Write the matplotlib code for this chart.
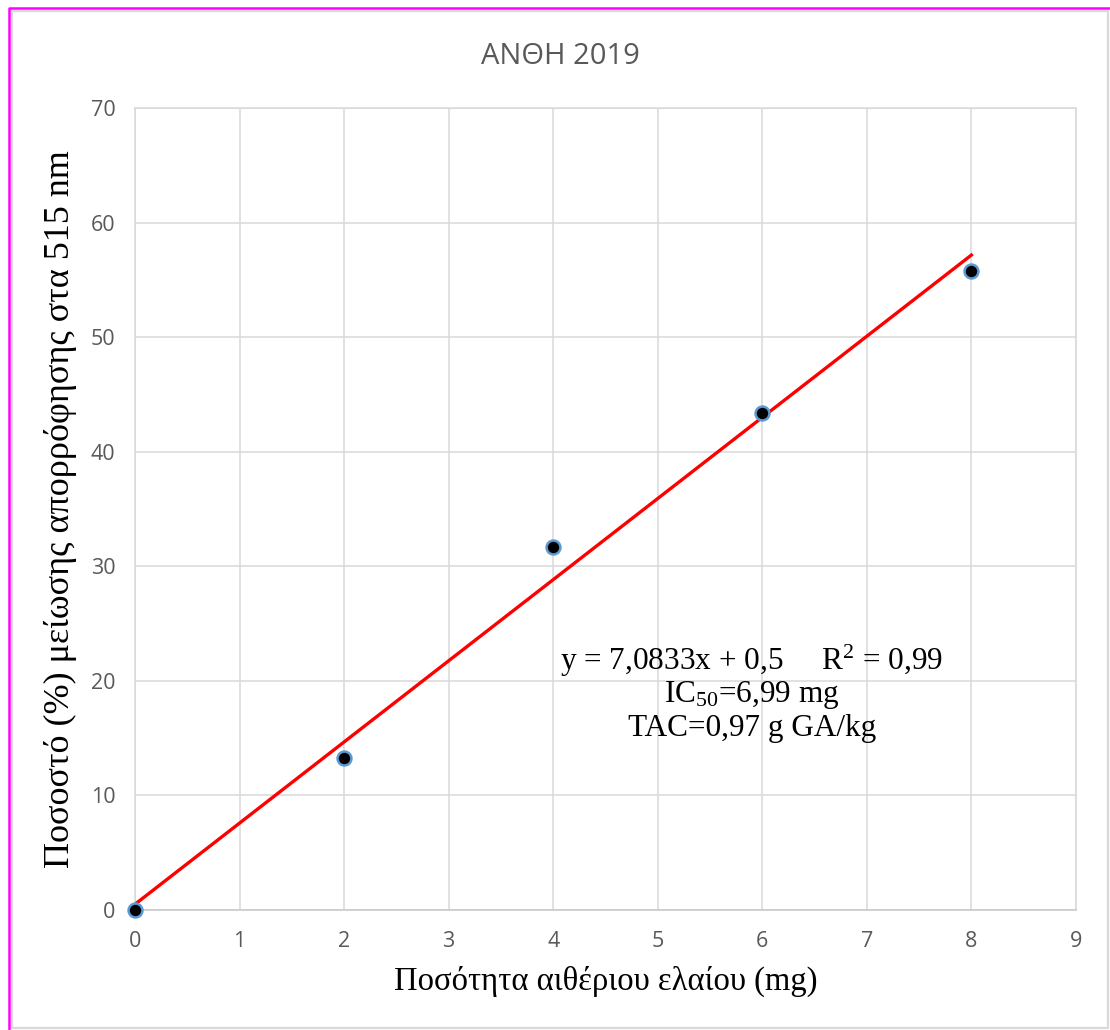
import numpy as np
import matplotlib.pyplot as plt
from matplotlib.lines import Line2D

# data
x_mg = [0, 2, 4, 6, 8]
y_pct = [0.0, 13.3, 31.7, 43.4, 55.8]
slope = 7.0833
intercept = 0.5
x_ticks = list(range(0, 10))
y_ticks = list(range(0, 80, 10))

title = 'ΑΝΘΗ 2019'
xlabel = 'Ποσότητα αιθέριου ελαίου (mg)'
ylabel = 'Ποσοστό (%) μείωσης απορρόφησης στα 515 nm'
eq_lines = ['y = 7,0833x + 0,5     R$^2$ = 0,99',
            'IC$_{50}$=6,99 mg',
            'TAC=0,97 g GA/kg']

plt.rcParams['mathtext.fontset'] = 'custom'
plt.rcParams['mathtext.rm'] = 'Liberation Serif'
plt.rcParams['mathtext.it'] = 'Liberation Serif:italic'

fig = plt.figure(figsize=(11.1, 10.3), dpi=100)
ax = fig.add_axes([0.1216, 0.1165, 0.8477, 0.7786])

grey = '#D9D9D9'
ax.grid(True, color=grey, linewidth=1.1)
ax.set_axisbelow(True)
for s in ax.spines.values():
    s.set_color(grey)
    s.set_linewidth(1.1)
ax.spines['bottom'].set_color('#C8C8C8')

# trend line
xl = np.array([min(x_mg), max(x_mg)])
ax.plot(xl, slope * xl + intercept, color='#FF0000', linewidth=2.4, zorder=3)

# points
ax.plot(x_mg, y_pct, linestyle='none', marker='o', markersize=10,
        markerfacecolor='black', markeredgecolor='#5B9BD5',
        markeredgewidth=1.8, zorder=4, clip_on=False)

ax.set_xlim(0, 9)
ax.set_ylim(0, 70)
ax.set_xticks(x_ticks)
ax.set_yticks(y_ticks)
ax.tick_params(length=0, labelsize=15.5, labelcolor='#595959')
ax.tick_params(axis='y', pad=14)
ax.tick_params(axis='x', pad=15)
for lab in ax.get_xticklabels() + ax.get_yticklabels():
    lab.set_family('Open Sans')

ax.set_xlabel(xlabel, family='Liberation Serif', fontsize=23.5, labelpad=10)
ax.set_ylabel(ylabel, family='Liberation Serif', fontsize=26, labelpad=10)

fig.text(0.505, 0.945, title, ha='center', va='center',
         family='Open Sans', fontsize=21, color='#595959')

for i, t in enumerate(eq_lines):
    ax.text(5.9, 21.7 - i * 2.95, t, ha='center', va='center',
            family='Liberation Serif', fontsize=22.5, color='black')

# frame around the picture
fig.add_artist(Line2D([12/1110, 1108/1110, 1108/1110, 12/1110, 12/1110],
                      [1 - 11/1030, 1 - 11/1030, 2/1030, 2/1030, 1 - 11/1030],
                      color=grey, linewidth=1.6))
fig.add_artist(Line2D([8.5/1110, 8.5/1110, 1.0], [0.0, 1 - 7.5/1030, 1 - 7.5/1030],
                      color='#FF00FF', linewidth=1.8))

fig.savefig('out.png', dpi=100)
